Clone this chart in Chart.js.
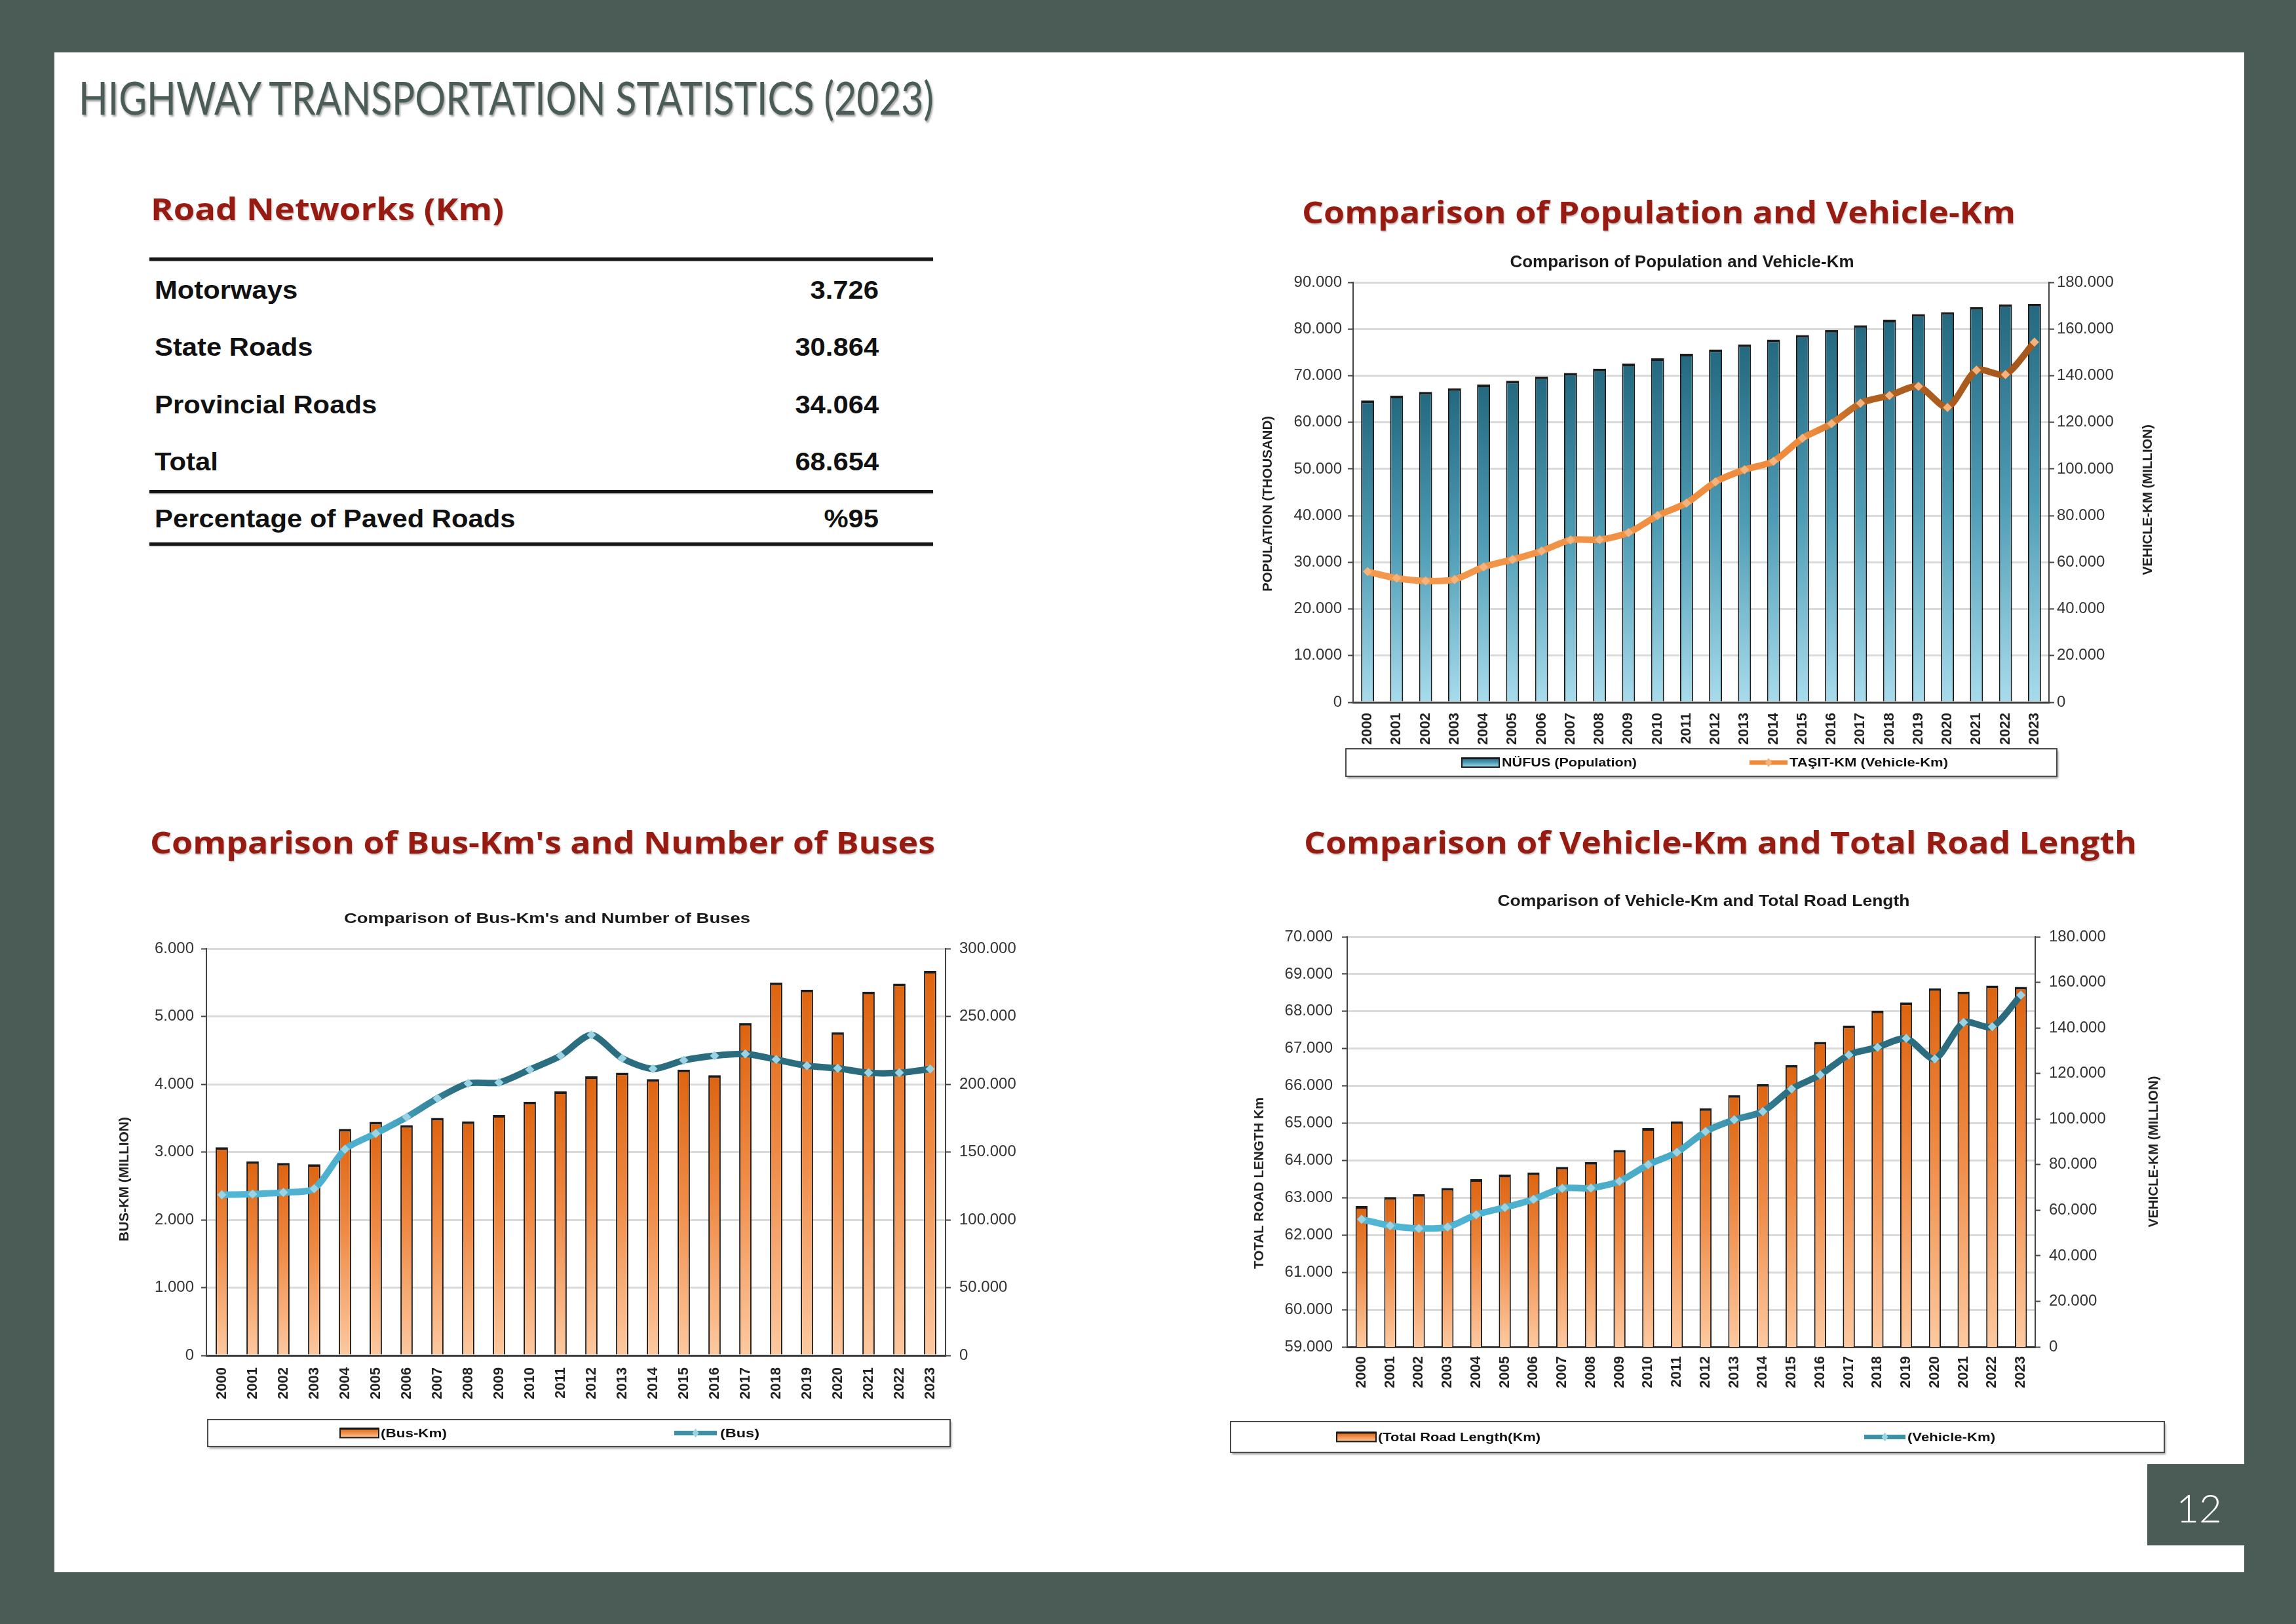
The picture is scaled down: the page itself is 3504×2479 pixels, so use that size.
<!DOCTYPE html>
<html>
<head>
<meta charset="utf-8">
<script src="https://cdn.jsdelivr.net/npm/chart.js@4.4.1/dist/chart.umd.min.js"></script>
<style>
  html, body { margin: 0; padding: 0; background: #4b5b56; }
  #page { position: relative; width: 3504px; height: 2479px; background: #4b5b56; overflow: hidden; }
  #sheet { position: absolute; left: 83px; top: 80px; width: 3342px; height: 2320px; background: #fff; }
  #pnum { position: absolute; left: 3277px; top: 2235px; width: 148px; height: 124px; background: #4b5b56; }
  .t { position: absolute; white-space: nowrap; line-height: 1; }
  .rule { position: absolute; left: 228px; width: 1196px; height: 5px; background: #161616; box-shadow: 0 1px 2px rgba(0,0,0,.35); }
  canvas { position: absolute; }
</style>
</head>
<body>
<div id="page">
  <div id="sheet"></div>
  <div id="pnum"></div>
  <div class="rule" style="top:393px"></div>
  <div class="rule" style="top:748px"></div>
  <div class="rule" style="top:828px"></div>
  <canvas id="popChart" width="1440" height="830" style="left:1880px;top:370px"></canvas>
  <canvas id="busChart" width="1440" height="910" style="left:160px;top:1330px"></canvas>
  <canvas id="roadChart" width="1470" height="910" style="left:1860px;top:1330px"></canvas>
</div>
<script>
// ---- data ----
const years = ['2000','2001','2002','2003','2004','2005','2006','2007','2008','2009','2010','2011',
               '2012','2013','2014','2015','2016','2017','2018','2019','2020','2021','2022','2023'];

// population, thousand
const population = [64700, 65700, 66500, 67300, 68100, 68900, 69800, 70600, 71500, 72600, 73700, 74700,
                    75600, 76700, 77700, 78700, 79800, 80800, 82000, 83200, 83600, 84700, 85300, 85400];
// vehicle-km, million
const vehicleKm = [56000, 53200, 52000, 52600, 58000, 61200, 64800, 69600, 69700, 72700, 80000, 85400,
                   94500, 99700, 103300, 113200, 119400, 128200, 131500, 135400, 126400, 142400, 140500, 154400];
// bus-km, million
const busKm = [3070, 2863, 2837, 2819, 3340, 3444, 3396, 3503, 3451, 3545, 3741, 3893,
               4115, 4170, 4074, 4214, 4133, 4902, 5501, 5394, 4765, 5364, 5482, 5671];
// number of buses
const buses = [118500, 119000, 120200, 123000, 152000, 163700, 175700, 189500, 200600, 201200, 210800, 221000,
               236300, 219100, 211300, 217600, 221000, 222300, 218200, 213600, 211700, 208400, 208400, 211200];
// total road length, km
const roadLength = [62780, 63020, 63100, 63260, 63500, 63620, 63680, 63830, 63960, 64280, 64870, 65050,
                    65400, 65750, 66050, 66560, 67180, 67620, 68020, 68240, 68620, 68530, 68690, 68654];

// road network table
const networkNames = ['Motorways', 'State Roads', 'Provincial Roads', 'Total'];
const networkKm = ['3.726', '30.864', '34.064', '68.654'];
const pavedLabel = 'Percentage of Paved Roads';
const pavedShare = '%95';

// axis ranges [min, max, step]
const popAxis = [0, 90000, 10000];
const vkmAxis = [0, 180000, 20000];
const busKmAxis = [0, 6000, 1000];
const busAxis = [0, 300000, 50000];
const roadAxis = [59000, 70000, 1000];

// ---- static page text ----
const page = document.getElementById('page');
const meas = document.createElement('canvas').getContext('2d');
function put(text, o) {
  const el = document.createElement('div');
  el.className = 't';
  el.textContent = text;
  const font = `${o.weight || 400} ${o.size}px ${o.family}`;
  el.style.font = font;
  // the font shorthand resets ligatures, so switch them off afterwards
  el.style.fontVariantLigatures = 'none';
  el.style.lineHeight = '1';
  el.style.color = o.color;
  if (o.shadow) el.style.textShadow = o.shadow;
  meas.font = font;
  const m = meas.measureText('H');
  const base = (o.size + m.fontBoundingBoxAscent - m.fontBoundingBoxDescent) / 2;
  el.style.top = (o.capTop - (base - m.actualBoundingBoxAscent)) + 'px';
  el.style.left = '0px';
  page.appendChild(el);
  const w = el.getBoundingClientRect().width;
  const k = o.width ? o.width / w : (o.scale || 1);
  if (o.align === 'right') { el.style.left = (o.x - w) + 'px'; el.style.transformOrigin = '100% 0'; }
  else if (o.align === 'center') { el.style.left = (o.x - w / 2) + 'px'; el.style.transformOrigin = '50% 0'; }
  else { el.style.left = o.x + 'px'; el.style.transformOrigin = '0 0'; }
  el.style.transform = `scaleX(${k})`;
}

const titleFont = "Lato, 'Open Sans', sans-serif";
const headFont = "'Open Sans', Lato, sans-serif";
const bodyFont = "'Liberation Sans', Arial, Helvetica, sans-serif";
put('HIGHWAY TRANSPORTATION STATISTICS (2023)', { family: titleFont, size: 70, color: '#4a5c57', x: 120, capTop: 125, width: 1305,
  shadow: '2px 3px 3px rgba(0,0,0,.35)' });
const red = '#981b12', redShadow = '1px 2px 2px rgba(0,0,0,.25)';
put('Road Networks (Km)', { family: headFont, weight: 700, size: 47, color: red, x: 230, capTop: 303, width: 539, shadow: redShadow });
put('Comparison of Population and Vehicle-Km', { family: headFont, weight: 700, size: 47, color: red, x: 1987, capTop: 308, width: 1089, shadow: redShadow });
put("Comparison of Bus-Km's and Number of Buses", { family: headFont, weight: 700, size: 47, color: red, x: 229, capTop: 1270, width: 1198, shadow: redShadow });
put('Comparison of Vehicle-Km and Total Road Length', { family: headFont, weight: 700, size: 47, color: red, x: 1990, capTop: 1270, width: 1271, shadow: redShadow });

const rowBase = [456, 543, 631, 718];
networkNames.forEach((name, i) => {
  put(name, { family: bodyFont, weight: 700, size: 38, color: '#111', x: 236, capTop: rowBase[i] - 27, scale: 1.1 });
  put(networkKm[i], { family: bodyFont, weight: 700, size: 38, color: '#111', x: 1341, capTop: rowBase[i] - 27, scale: 1.1, align: 'right' });
});
put(pavedLabel, { family: bodyFont, weight: 700, size: 38, color: '#111', x: 236, capTop: 778, scale: 1.1 });
put(pavedShare, { family: bodyFont, weight: 700, size: 38, color: '#111', x: 1341, capTop: 778, scale: 1.1, align: 'right' });

put('12', { family: titleFont, weight: 300, size: 60, color: '#fff', x: 3356, capTop: 2282, align: 'center' });

// ---- charts ----
Chart.defaults.font.family = bodyFont;
Chart.defaults.color = '#333';

const fmt = v => String(v).replace(/\B(?=(\d{3})+(?!\d))/g, '.');

function hGrad(chart, stops) {
  const a = chart.chartArea;
  if (!a) return stops[0][1];
  const g = chart.ctx.createLinearGradient(a.left, 0, a.right, 0);
  stops.forEach(([p, c]) => g.addColorStop(p, c));
  return g;
}

function barGrad(c, stops) {
  const chart = c.chart;
  if (!chart.chartArea || c.type !== 'data') return stops[0][1];
  const y = chart.scales.y;
  const g = chart.ctx.createLinearGradient(0, y.getPixelForValue(c.raw), 0, y.getBasePixel());
  stops.forEach(([p, col]) => g.addColorStop(p, col));
  return g;
}

function fitText(ctx, text, x, y, width, align) {
  const w = ctx.measureText(text).width;
  ctx.save();
  ctx.translate(x, y);
  ctx.scale(width ? width / w : 1, 1);
  ctx.textAlign = align;
  ctx.fillText(text, 0, 0);
  ctx.restore();
}

// chart title, axis titles and boxed legend
function decor(o) {
  return {
    id: 'decor',
    afterDraw(chart) {
      const ctx = chart.ctx;
      const [lineDs, barDs] = chart.data.datasets;
      ctx.save();
      ctx.fillStyle = '#1a1a1a';
      ctx.textBaseline = 'middle';
      ctx.font = `bold ${o.title.size}px ${bodyFont}`;
      fitText(ctx, o.title.text, o.title.x, o.title.y, o.title.width, 'center');

      ctx.font = `bold 20px ${bodyFont}`;
      ctx.fillStyle = '#222';
      o.axisTitles.forEach(t => {
        ctx.save();
        ctx.translate(t.x, t.y);
        ctx.rotate(-Math.PI / 2);
        fitText(ctx, t.text, 0, 0, t.len, 'center');
        ctx.restore();
      });

      const L = o.legend, [bx0, by0, bx1, by1] = L.box, cy = (by0 + by1) / 2;
      ctx.save();
      ctx.shadowColor = 'rgba(0,0,0,0.4)';
      ctx.shadowOffsetX = 2; ctx.shadowOffsetY = 3; ctx.shadowBlur = 3;
      ctx.fillStyle = '#fff';
      ctx.fillRect(bx0, by0, bx1 - bx0, by1 - by0);
      ctx.restore();
      ctx.strokeStyle = '#4a4a4a'; ctx.lineWidth = 2;
      ctx.strokeRect(bx0, by0, bx1 - bx0, by1 - by0);

      // bar swatch
      const [sx0, sx1] = L.bar;
      const g = ctx.createLinearGradient(0, cy - 7, 0, cy + 7);
      o.barStops.forEach(([p, c]) => g.addColorStop(p, c));
      ctx.fillStyle = g;
      ctx.fillRect(sx0, cy - 7, sx1 - sx0, 14);
      ctx.strokeStyle = '#1b1b1b'; ctx.lineWidth = 2;
      ctx.strokeRect(sx0, cy - 7, sx1 - sx0, 14);
      ctx.fillStyle = '#1b1b1b';
      ctx.fillRect(sx0, cy - 8, sx1 - sx0, 3);

      // line swatch
      const [lx0, lx1] = L.line;
      ctx.strokeStyle = o.legendLine; ctx.lineWidth = 7;
      ctx.beginPath(); ctx.moveTo(lx0, cy); ctx.lineTo(lx1, cy); ctx.stroke();
      const mx = (lx0 + lx1) / 2;
      ctx.fillStyle = o.marker;
      ctx.beginPath(); ctx.moveTo(mx, cy - 7); ctx.lineTo(mx + 5, cy); ctx.lineTo(mx, cy + 7); ctx.lineTo(mx - 5, cy); ctx.closePath(); ctx.fill();

      ctx.fillStyle = '#111';
      ctx.font = `bold 19px ${bodyFont}`;
      fitText(ctx, barDs.label, L.barText, cy + 1, L.barTextW, 'left');
      fitText(ctx, lineDs.label, L.lineText, cy + 1, L.lineTextW, 'left');
      ctx.restore();
    }
  };
}

function combo(id, o) {
  return new Chart(document.getElementById(id), {
    data: {
      labels: years,
      datasets: [
        {
          type: 'line', label: o.lineLabel, data: o.line, yAxisID: 'y1', order: 0,
          borderColor: c => hGrad(c.chart, o.lineStops), borderWidth: 10, tension: 0.25,
          pointStyle: 'rectRot', pointRadius: 7, pointBackgroundColor: o.marker, pointBorderWidth: 0
        },
        {
          type: 'bar', label: o.barLabel, data: o.bars, yAxisID: 'y', order: 1,
          backgroundColor: c => barGrad(c, o.barStops), borderColor: '#1b1b1b',
          borderWidth: { top: 4, left: 2, right: 2, bottom: 0 }, borderSkipped: 'start',
          barPercentage: o.barPct, categoryPercentage: 1
        }
      ]
    },
    options: {
      responsive: false, animation: false, devicePixelRatio: 1,
      layout: { padding: o.pad },
      plugins: { legend: { display: false }, tooltip: { enabled: false }, title: { display: false } },
      scales: {
        x: {
          grid: { display: false, drawTicks: false },
          border: { color: '#3a3a3a', width: 3 },
          ticks: { autoSkip: false, minRotation: 90, maxRotation: 90, padding: o.xPad, color: '#222', font: { size: 22, weight: 'bold' } },
          afterFit: s => { s.height = o.xH; }
        },
        y: {
          position: 'left', min: o.left[0], max: o.left[1],
          ticks: { stepSize: o.left[2], padding: o.lPad, color: '#333', font: { size: 24 }, callback: v => fmt(v) },
          grid: { color: '#dadada', lineWidth: 3, tickColor: '#444', tickWidth: 2, tickLength: 8 },
          border: { color: '#444', width: 2 },
          afterFit: s => { s.width = o.wL; }
        },
        y1: {
          position: 'right', min: o.right[0], max: o.right[1],
          ticks: { stepSize: o.right[2], padding: o.rPad, color: '#333', font: { size: 24 }, callback: v => fmt(v) },
          grid: { drawOnChartArea: false, tickColor: '#444', tickWidth: 2, tickLength: 8 },
          border: { color: '#444', width: 2 },
          afterFit: s => { s.width = o.wR; }
        }
      }
    },
    plugins: [decor(o)]
  });
}

const orangeBar = [[0, '#dd6410'], [0.45, '#ef8a45'], [1, '#fdc9a0']];
const tealBar = [[0, '#23687f'], [0.5, '#4f9db5'], [1, '#a8dcec']];

combo('popChart', {
  bars: population, line: vehicleKm, barLabel: 'NÜFUS (Population)', lineLabel: 'TAŞIT-KM (Vehicle-Km)',
  left: popAxis, right: vkmAxis, barStops: tealBar, barPct: 0.45,
  lineStops: [[0, '#f39a4f'], [0.66, '#ee8a3c'], [0.74, '#b0601f'], [1, '#a4561c']],
  marker: '#f6b27b', legendLine: '#ee8a3c',
  pad: { top: 61, bottom: 53, left: 0, right: 0 }, wL: 185, wR: 193, xH: 75, xPad: 16, lPad: 9, rPad: 4,
  title: { text: 'Comparison of Population and Vehicle-Km', x: 687, y: 31, size: 25, width: 525 },
  axisTitles: [{ text: 'POPULATION (THOUSAND)', x: 55, y: 399, len: 268 }, { text: 'VEHICLE-KM (MILLION)', x: 1398, y: 393, len: 230 }],
  legend: { box: [174, 773, 1259, 815], bar: [351, 408], barText: 412, barTextW: 206, line: [790, 848], lineText: 851, lineTextW: 242 }
});

combo('busChart', {
  bars: busKm, line: buses, barLabel: '(Bus-Km)', lineLabel: '(Bus)',
  left: busKmAxis, right: busAxis, barStops: orangeBar, barPct: 0.40,
  lineStops: [[0, '#52b7d6'], [0.24, '#4aaecb'], [0.34, '#2c6f82'], [1, '#2a6a7c']],
  marker: '#9ad4e4', legendLine: '#3d8fa6',
  pad: { top: 118, bottom: 91, left: 0, right: 0 }, wL: 155, wR: 157, xH: 80, xPad: 18, lPad: 11, rPad: 13,
  title: { text: "Comparison of Bus-Km's and Number of Buses", x: 675, y: 73, size: 22, width: 620 },
  axisTitles: [{ text: 'BUS-KM (MILLION)', x: 30, y: 470, len: 190 }],
  legend: { box: [157, 837, 1290, 878], bar: [359, 418], barText: 421, barTextW: 101, line: [869, 934], lineText: 939, lineTextW: 60 }
});

combo('roadChart', {
  bars: roadLength, line: vehicleKm, barLabel: '(Total Road Length(Km)', lineLabel: '(Vehicle-Km)',
  left: roadAxis, right: vkmAxis, barStops: orangeBar, barPct: 0.42,
  lineStops: [[0, '#52b7d6'], [0.5, '#49aac6'], [0.64, '#2c6f82'], [1, '#2a6a7c']],
  marker: '#9ad4e4', legendLine: '#3d8fa6',
  pad: { top: 100, bottom: 109, left: 0, right: 0 }, wL: 196, wR: 224, xH: 75, xPad: 14, lPad: 14, rPad: 13,
  title: { text: 'Comparison of Vehicle-Km and Total Road Length', x: 740, y: 46, size: 24, width: 629 },
  axisTitles: [{ text: 'TOTAL ROAD LENGTH Km', x: 62, y: 476, len: 262 }, { text: 'VEHICLE-KM (MILLION)', x: 1427, y: 428, len: 231 }],
  legend: { box: [18, 840, 1443, 887], bar: [180, 240], barText: 243, barTextW: 248, line: [985, 1048], lineText: 1051, lineTextW: 134 }
});
</script>
</body>
</html>
